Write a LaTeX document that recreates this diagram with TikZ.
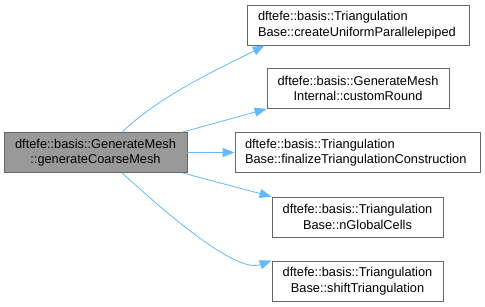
\documentclass[tikz,border=0pt]{standalone}
\usepackage{fontspec}
\setmainfont{Liberation Sans}
\usetikzlibrary{arrows.meta}

\definecolor{callblue}{HTML}{63B8FF}
\definecolor{boxgrey}{HTML}{666666}
\definecolor{selfgrey}{HTML}{999999}

\begin{document}
\begin{tikzpicture}[x=1pt,y=-1pt,
		fn/.style={draw=boxgrey,fill=white,line width=0.8pt,inner sep=0pt,
			minimum height=40pt,align=center,
			font=\fontsize{12.8}{15.5}\selectfont},
		call/.style={draw=callblue,line width=0.8pt,
			-{Triangle[length=12pt,width=9pt]}}]
	\useasboundingbox (0,0) rectangle (485,307);

	% the function and its callees
	\node[fn,fill=selfgrey,minimum width=183pt] (coarse) at (95.5,152.5)
		{dftefe::basis::GenerateMesh\\::generateCoarseMesh};
	\node[fn,minimum width=222pt,text width=200pt,align=left] (parallelepiped) at (358,25)
		{dftefe::basis::Triangulation\\Base::createUniformParallelepiped};
	\node[fn,minimum width=182pt] (round) at (358,88.5)
		{dftefe::basis::GenerateMesh\\Internal::customRound};
	\node[fn,minimum width=245pt,text width=225pt,align=left] (finalize) at (357.5,152.5)
		{dftefe::basis::Triangulation\\Base::finalizeTriangulationConstruction};
	\node[fn,minimum width=171pt] (cells) at (357.5,217)
		{dftefe::basis::Triangulation\\Base::nGlobalCells};
	\node[fn,minimum width=171pt] (shift) at (357.5,281)
		{dftefe::basis::Triangulation\\Base::shiftTriangulation};

	% calls
	\draw[call] ([xshift=26.5pt]coarse.north) .. controls +(42,-40) and +(-36,19) .. ([xshift=18pt]parallelepiped.south west);
	\draw[call] ([xshift=-5pt]coarse.north east) -- (round.south west);
	\draw[call] (coarse.east) -- (finalize.west);
	\draw[call] ([xshift=-5pt]coarse.south east) -- (cells.north west);
	\draw[call] ([xshift=26.5pt]coarse.south) .. controls +(44,40) and +(-36,13) .. (shift.north west);
\end{tikzpicture}
\end{document}
